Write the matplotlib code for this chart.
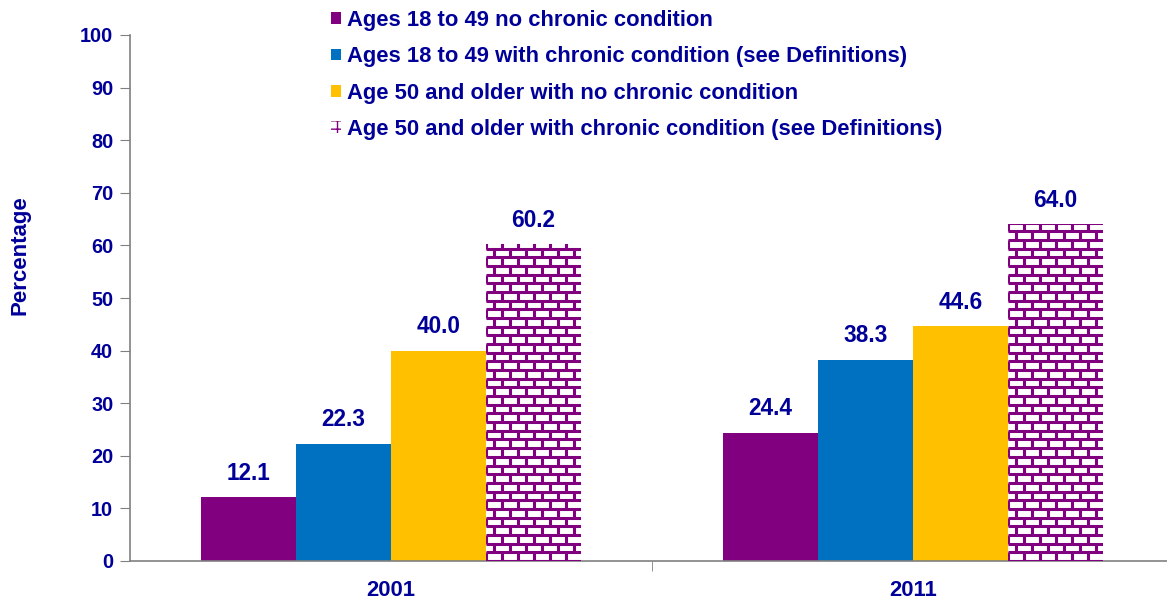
import numpy as np
import matplotlib.pyplot as plt
from matplotlib.collections import LineCollection
from matplotlib.patches import Rectangle

years = ["2001", "2011"]
series = [
    "Ages 18 to 49 no chronic condition",
    "Ages 18 to 49 with chronic condition (see Definitions)",
    "Age 50 and older with no chronic condition",
    "Age 50 and older with chronic condition (see Definitions)",
]
young_none = [12.1, 24.4]
young_chronic = [22.3, 38.3]
old_none = [40.0, 44.6]
old_chronic = [60.2, 64.0]
values = [young_none, young_chronic, old_none, old_chronic]
colors = ["#800080", "#0070C0", "#FFC000", "#800080"]

navy = "#000099"
plt.rcParams['font.family'] = ['Liberation Sans', 'DejaVu Sans']
plt.rcParams['font.weight'] = 'bold'

fig = plt.figure(figsize=(11.67, 6), dpi=100)
ax = fig.add_axes([130 / 1167, 39 / 600, 1044 / 1167, 526 / 600])

x = np.arange(len(years))
w = 0.182


def draw_bricks(ax, rect, row_h=1.65, brick_w=0.0307, color="#800080"):
    # brick pattern clipped to the bar
    x0, y0 = rect.get_x(), rect.get_y()
    bw, bh = rect.get_width(), rect.get_height()
    segs = []
    nrows = int(np.ceil(bh / row_h))
    for r in range(nrows + 1):
        yb = y0 + r * row_h
        segs.append([(x0, yb), (x0 + bw, yb)])
        off = (r % 2) * brick_w / 2
        xv = x0 + off
        while xv <= x0 + bw:
            segs.append([(xv, yb), (xv, yb + row_h)])
            xv += brick_w
    lc = LineCollection(segs, colors=color, linewidths=2.2, zorder=3)
    ax.add_collection(lc)
    lc.set_clip_path(rect)


handles = []
for i, (vals, c) in enumerate(zip(values, colors)):
    pos = x + (i - 1.5) * w
    if i == 3:
        bars = ax.bar(pos, vals, w, color="white", edgecolor="none", zorder=2)
        for b in bars:
            draw_bricks(ax, b)
        h = Rectangle((0, 0), 1, 1, facecolor="white", edgecolor="#800080", hatch="++", linewidth=0)
    else:
        bars = ax.bar(pos, vals, w, color=c, edgecolor="none", zorder=2)
        h = Rectangle((0, 0), 1, 1, facecolor=c, edgecolor="none")
    handles.append(h)
    ax.bar_label(bars, labels=[f"{v:.1f}" for v in vals], padding=9,
                 color=navy, fontsize=16.3, fontweight="bold")

ax.set_xlim(-0.5, 1.5)
ax.set_ylim(0, 100)
ax.set_yticks(np.arange(0, 101, 10))
ax.tick_params(axis='y', direction='out', length=7, colors="#808080",
               labelcolor=navy, labelsize=14.3, pad=5)
ax.set_xticks(x)
ax.set_xticklabels(years)
ax.tick_params(axis='x', length=0, labelcolor=navy, labelsize=15.8, pad=14)
ax.set_xticks([0.5], minor=True)
ax.tick_params(axis='x', which='minor', length=7, colors="#808080", direction='out')
for s in ["top", "right"]:
    ax.spines[s].set_visible(False)
for s in ["left", "bottom"]:
    ax.spines[s].set_color("#808080")
    ax.spines[s].set_linewidth(1.2)

fig.text(20 / 1167, 1 - 255 / 600, "Percentage", rotation=90, ha="center", va="center",
         color=navy, fontsize=16, fontweight="bold")

leg = fig.legend(handles, series, loc="upper left", bbox_to_anchor=(322 / 1167, 0.998),
                 frameon=False, fontsize=15.8, handlelength=0.45, handleheight=0.45,
                 handletextpad=0.3, labelspacing=0.7, borderaxespad=0)
for t in leg.get_texts():
    t.set_color(navy)
    t.set_fontweight("bold")

fig.savefig("out.png", dpi=100)
